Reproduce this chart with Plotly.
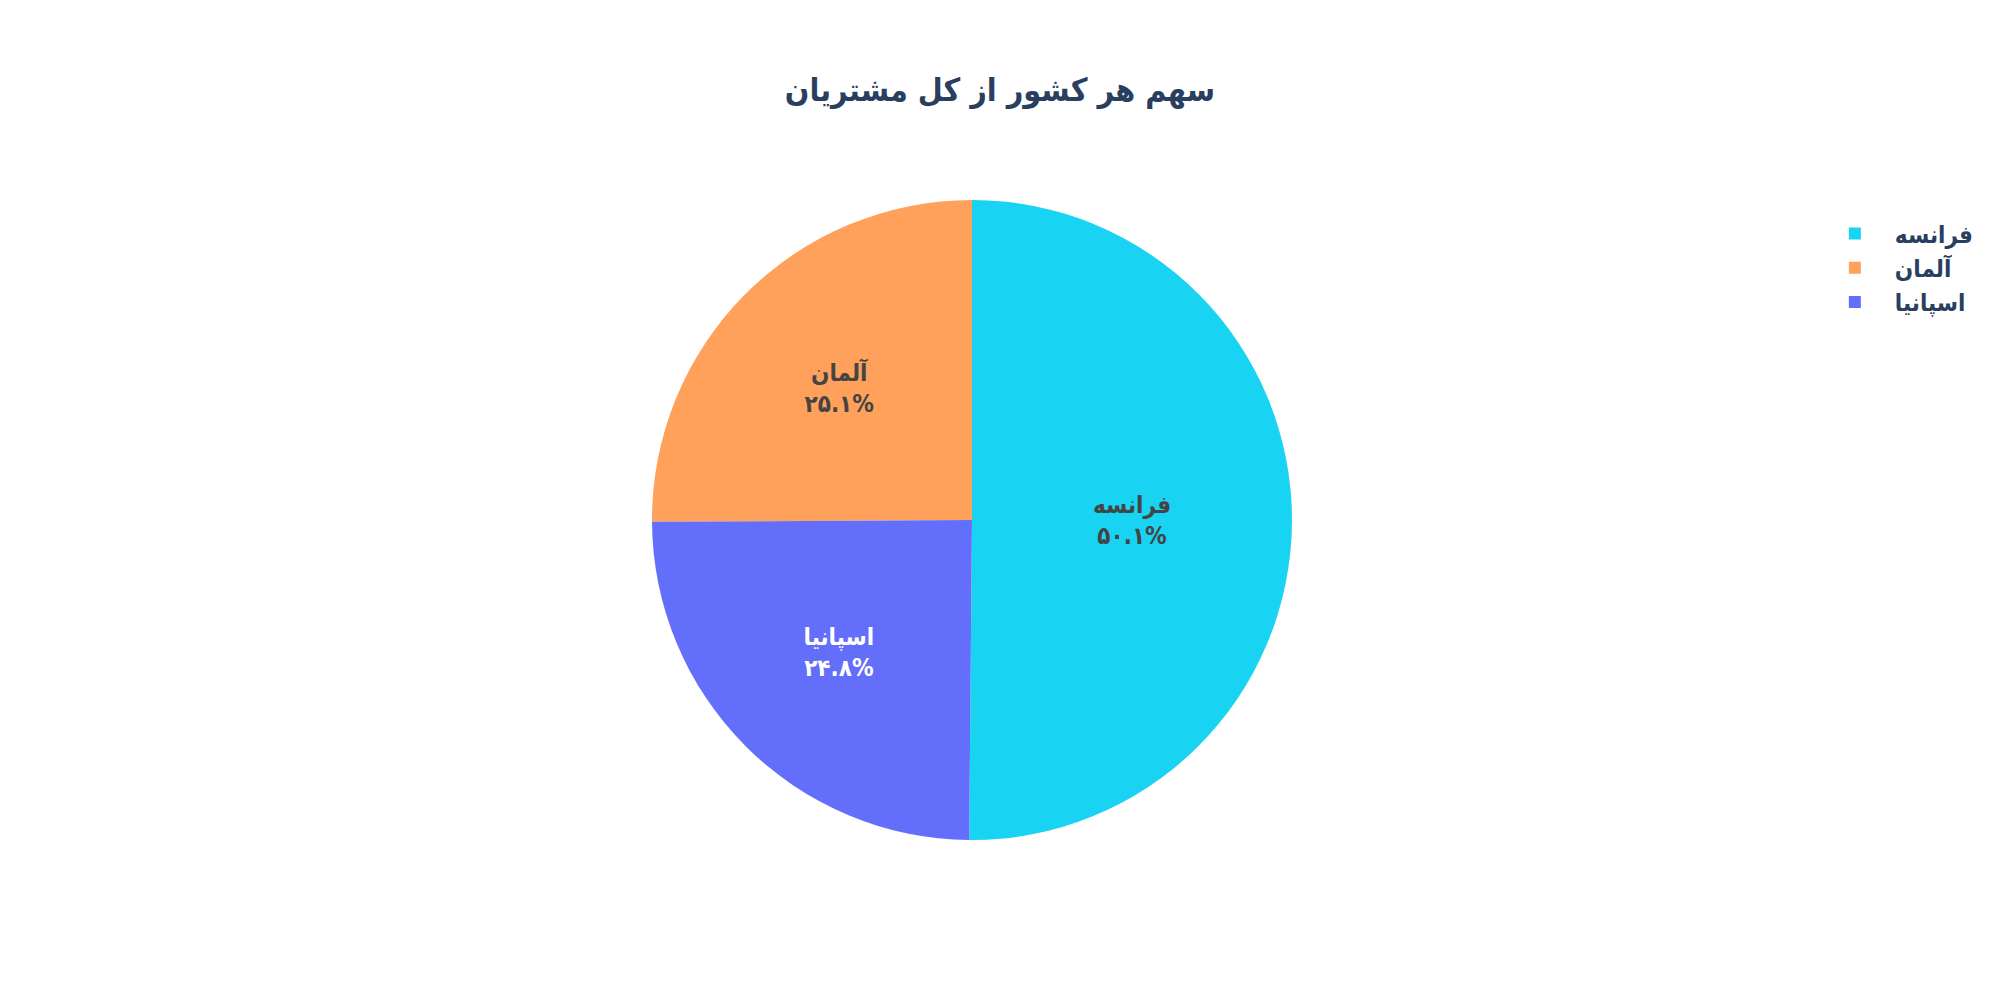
import plotly.graph_objects as go

countries = ["فرانسه", "آلمان", "اسپانیا"]
customers = [5014, 2509, 2477]
pct_text = ["۵۰.۱%", "۲۵.۱%", "۲۴.۸%"]
colors = ["#19D3F3", "#FFA15A", "#636EFA"]
title_text = "سهم هر کشور از کل مشتریان"

FONT = "DejaVu Sans Condensed, DejaVu Sans"

fig = go.Figure(
    go.Pie(
        labels=countries,
        values=customers,
        text=pct_text,
        texttemplate="%{label}<br>%{text}",
        textinfo="text",
        marker=dict(colors=colors),
        textposition="inside",
        insidetextorientation="horizontal",
        textfont=dict(size=24, family=FONT, weight="bold"),
    )
)

fig.update_layout(
    template="plotly",
    width=2000,
    height=1000,
    font=dict(family=FONT, size=24, weight="bold", color="#2a3f5f"),
    title=dict(text=title_text, x=0.5, xanchor="center", y=0.91, yanchor="middle",
               font=dict(size=32, family=FONT, weight="bold", color="#2a3f5f")),
    legend=dict(font=dict(size=24, family=FONT, weight="bold", color="#2a3f5f"),
                x=1.019, xanchor="left", y=0.982, yanchor="top", itemwidth=70),
    margin=dict(t=200, b=160, l=160, r=216, autoexpand=False),
    paper_bgcolor="white",
)

fig.write_html("out.html")
